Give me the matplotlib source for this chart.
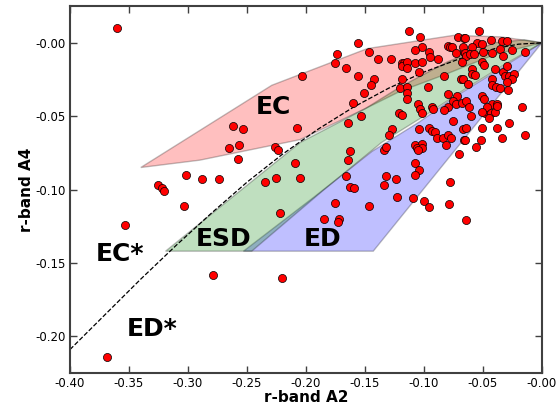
import numpy as np
import matplotlib
matplotlib.use("Agg")
import matplotlib.pyplot as plt

# measured galaxies (A2, A4)
a2 = [-0.360, -0.203, -0.262, -0.253, -0.265, -0.257, -0.258, -0.226, -0.224, -0.208,
      -0.209, -0.205, -0.225, -0.235, -0.302, -0.288, -0.274, -0.325, -0.322, -0.320,
      -0.303, -0.353, -0.222, -0.279, -0.220, -0.369, -0.175, -0.185, -0.172, -0.173,
      -0.147, -0.123, -0.109, -0.100, -0.096, -0.079, -0.064,
      -0.163, -0.164, -0.166, -0.163, -0.159, -0.134, -0.132, -0.132, -0.134,
      -0.164, -0.153,
      -0.156, -0.174, -0.175, -0.166, -0.147, -0.139, -0.156, -0.142, -0.145, -0.151, -0.160,
      -0.113, -0.103, -0.071, -0.066, -0.102, -0.108, -0.096, -0.080, -0.078, -0.076,
      -0.073, -0.066, -0.095, -0.088, -0.128, -0.119, -0.117, -0.119, -0.114, -0.114,
      -0.108, -0.102, -0.104, -0.119, -0.120, -0.114, -0.114, -0.114, -0.097, -0.083,
      -0.069, -0.105, -0.093, -0.080, -0.072, -0.080, -0.075, -0.073, -0.068,
      -0.053, -0.065, -0.055, -0.043, -0.034, -0.030, -0.067, -0.059, -0.051, -0.050,
      -0.042, -0.036, -0.025, -0.014, -0.065, -0.064, -0.061, -0.058, -0.033, -0.051,
      -0.049, -0.068, -0.040, -0.033, -0.030, -0.059, -0.067, -0.059, -0.057, -0.063,
      -0.042, -0.042, -0.039, -0.036, -0.031, -0.028, -0.024, -0.025, -0.030, -0.029,
      -0.064, -0.062, -0.051, -0.049, -0.042, -0.038, -0.017,
      -0.121, -0.119, -0.103, -0.102, -0.092, -0.083, -0.075, -0.127, -0.104, -0.096,
      -0.093, -0.091, -0.130, -0.089, -0.084, -0.080, -0.077, -0.067, -0.066, -0.108,
      -0.102, -0.106, -0.102, -0.105, -0.081, -0.070, -0.108, -0.104, -0.108, -0.124,
      -0.078,
      -0.060, -0.048, -0.047, -0.043, -0.045, -0.040, -0.038, -0.051, -0.064, -0.051,
      -0.038, -0.028, -0.065, -0.052, -0.034, -0.014, -0.056]
a4 = [0.010, -0.023, -0.057, -0.059, -0.072, -0.070, -0.079, -0.071, -0.073, -0.058,
      -0.082, -0.092, -0.092, -0.095, -0.090, -0.093, -0.093, -0.097, -0.099, -0.101,
      -0.111, -0.124, -0.116, -0.158, -0.160, -0.214, -0.109, -0.120, -0.120, -0.122,
      -0.111, -0.105, -0.106, -0.108, -0.112, -0.110, -0.121,
      -0.074, -0.080, -0.091, -0.098, -0.099, -0.073, -0.071, -0.091, -0.097,
      -0.055, -0.050,
      0.000, -0.008, -0.014, -0.017, -0.006, -0.011, -0.023, -0.025, -0.029, -0.034, -0.041,
      0.008, 0.004, 0.004, 0.003, -0.003, -0.005, -0.006, -0.002, -0.003, -0.003,
      -0.007, -0.006, -0.010, -0.011, -0.011, -0.014, -0.014, -0.016, -0.013, -0.017,
      -0.014, -0.013, -0.020, -0.025, -0.031, -0.030, -0.034, -0.038, -0.030, -0.023,
      -0.025, -0.042, -0.044, -0.035, -0.036, -0.044, -0.040, -0.042, -0.041,
      0.008, 0.003, 0.000, 0.002, 0.001, 0.001, -0.003, -0.003, -0.001, -0.006,
      -0.007, -0.004, -0.005, -0.006, -0.007, -0.009, -0.008, -0.008, -0.009, -0.013,
      -0.015, -0.013, -0.018, -0.020, -0.016, -0.018, -0.025, -0.021, -0.022, -0.028,
      -0.025, -0.029, -0.030, -0.031, -0.023, -0.023, -0.021, -0.025, -0.027, -0.032,
      -0.040, -0.044, -0.036, -0.038, -0.042, -0.042, -0.044,
      -0.048, -0.049, -0.045, -0.048, -0.045, -0.046, -0.053, -0.059, -0.059, -0.058,
      -0.060, -0.061, -0.063, -0.065, -0.065, -0.063, -0.065, -0.059, -0.066, -0.070,
      -0.069, -0.072, -0.072, -0.073, -0.070, -0.076, -0.082, -0.087, -0.090, -0.093,
      -0.095,
      -0.050, -0.048, -0.044, -0.048, -0.051, -0.047, -0.043, -0.047, -0.058, -0.058,
      -0.058, -0.055, -0.066, -0.066, -0.065, -0.063, -0.071]

# model regions (outline vertices)
ec_x = [-0.340, -0.229, -0.148, -0.075, -0.035, 0.0,
        -0.040, -0.080, -0.120, -0.150, -0.205, -0.290]
ec_y = [-0.085, -0.029, -0.004, 0.005, 0.004, 0.0,
        -0.008, -0.021, -0.033, -0.045, -0.066, -0.080]
esd_x = [-0.319, -0.256, -0.205, -0.150, -0.120, -0.080, -0.040, -0.015, 0.0,
         -0.032, -0.066, -0.096, -0.136, -0.186, -0.246]
esd_y = [-0.142, -0.101, -0.068, -0.045, -0.030, -0.013, 0.000, 0.002, 0.0,
         -0.015, -0.032, -0.048, -0.068, -0.101, -0.142]
ed_x = [-0.253, -0.193, -0.144, -0.104, -0.074, -0.038, 0.0, -0.143]
ed_y = [-0.142, -0.105, -0.074, -0.054, -0.037, -0.019, 0.0, -0.142]

# dividing curve
curve_x = [-0.400, -0.370, -0.340, -0.310, -0.280, -0.250, -0.220, -0.190, -0.160,
           -0.130, -0.100, -0.070, -0.040, -0.020, 0.0]
curve_y = [-0.209, -0.185, -0.161, -0.138, -0.116, -0.095, -0.076, -0.059, -0.044,
           -0.031, -0.020, -0.011, -0.004, -0.001, 0.0]

labels = ["EC", "ESD", "ED", "EC*", "ED*"]
label_x = [-0.228, -0.2695, -0.186, -0.358, -0.3305]
label_y = [-0.0437, -0.134, -0.134, -0.144, -0.195]

fig = plt.figure(figsize=(5.56, 4.07), dpi=100)
ax = fig.add_axes([0.1259, 0.0835, 0.8489, 0.9017])

ax.fill(ec_x, ec_y, color="red", alpha=0.25, edgecolor="k", lw=1)
ax.fill(ed_x, ed_y, color="blue", alpha=0.25, edgecolor="k", lw=1)
ax.fill(esd_x, esd_y, color="green", alpha=0.25, edgecolor="k", lw=1)
ax.plot(curve_x, curve_y, "k--", lw=0.9)
ax.scatter(a2, a4, s=34, c="red", edgecolors="k", linewidths=0.5, zorder=3)

for t, x, y in zip(labels, label_x, label_y):
    ax.text(x, y, t, fontsize=18, fontweight="bold", ha="center", va="center", zorder=4)

ax.set_xlim(-0.40, 0.0)
ax.set_ylim(-0.225, 0.025)
ax.set_xticks(np.arange(-0.40, 0.001, 0.05))
ax.set_yticks(np.arange(-0.20, 0.001, 0.05))
ax.xaxis.set_major_formatter(matplotlib.ticker.FormatStrFormatter("%.2f"))
ax.yaxis.set_major_formatter(matplotlib.ticker.FormatStrFormatter("%.2f"))
ax.tick_params(direction="in", top=True, right=True, length=5, width=1,
               labelsize=8.5, color="0.25", pad=3)
for s in ax.spines.values():
    s.set_color("0.25")
    s.set_linewidth(1.5)

ax.set_xlabel("r-band A2", fontsize=11, fontweight="bold", labelpad=0)
ax.set_ylabel("r-band A4", fontsize=11, fontweight="bold", labelpad=1)

fig.savefig("out.png", dpi=100)
